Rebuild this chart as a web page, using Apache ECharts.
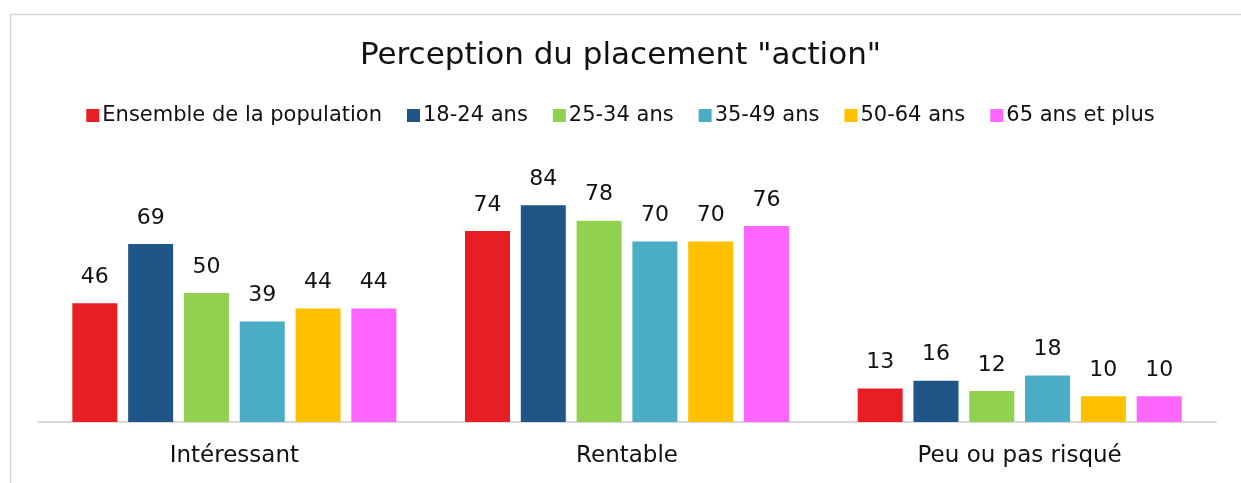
<!DOCTYPE html>
<html><head><meta charset="utf-8">
<script src="https://cdn.jsdelivr.net/npm/echarts@6/dist/echarts.min.js"></script>
<style>html,body{margin:0;padding:0;background:#fff}#c{width:1241px;height:483px}</style>
</head><body><div id="c"></div>
<script>
const categories = ['Intéressant', 'Rentable', 'Peu ou pas risqué'];
const seriesNames = ['Ensemble de la population', '18-24 ans', '25-34 ans', '35-49 ans', '50-64 ans', '65 ans et plus'];
const ensemble = [46, 74, 13];
const age18_24 = [69, 84, 16];
const age25_34 = [50, 78, 12];
const age35_49 = [39, 70, 18];
const age50_64 = [44, 70, 10];
const age65plus = [44, 76, 10];
const colors = ['#E81E25', '#1F5587', '#92D050', '#4BACC6', '#FFC000', '#FF66FF'];
const values = [ensemble, age18_24, age25_34, age35_49, age50_64, age65plus];
const FONT = '"DejaVu Sans", sans-serif';

const chart = echarts.init(document.getElementById('c'), null, {renderer: 'canvas'});
chart.setOption({
  animation: false,
  color: colors,
  graphic: [{type: 'rect', left: 8, top: 12, shape: {width: 1260, height: 500},
    style: {fill: 'none', stroke: '#d9d9d9', lineWidth: 1.5}, z: -1}],
  title: {text: 'Perception du placement "action"', left: 'center', top: 35,
    textStyle: {fontFamily: FONT, fontSize: 31, fontWeight: 'normal', color: '#111'}},
  legend: {top: 100, left: 'center', itemWidth: 13, itemHeight: 13, itemGap: 25,
    icon: 'rect',
    textStyle: {fontFamily: FONT, fontSize: 21, color: '#111', padding: [0,0,0,-2]},
    data: seriesNames},
  grid: {left: 38, right: 25, top: 164, bottom: 61, containLabel: false},
  xAxis: {type: 'category', data: categories,
    axisLine: {lineStyle: {color: '#d9d9d9', width: 2}},
    axisTick: {show: false},
    axisLabel: {fontFamily: FONT, fontSize: 23, color: '#111', margin: 23}},
  yAxis: {type: 'value', min: 0, max: 100, show: false, splitLine: {show: false}},
  series: seriesNames.map((n, i) => ({
    name: n, type: 'bar', data: values[i], barWidth: 45, barGap: '24%',
    label: {show: true, position: 'top', distance: 15, fontFamily: FONT, fontSize: 22, color: '#111'}
  }))
});
</script></body></html>
